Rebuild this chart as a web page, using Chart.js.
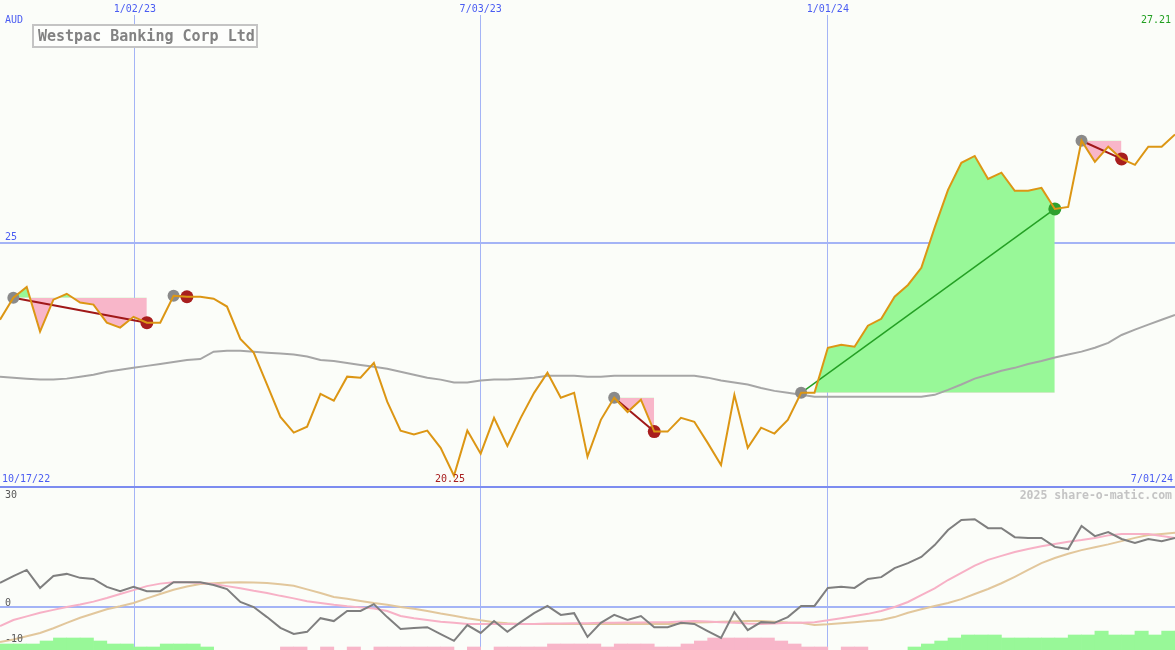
<!DOCTYPE html>
<html>
<head>
<meta charset="utf-8">
<script src="https://cdn.jsdelivr.net/npm/chart.js@4.4.1/dist/chart.umd.min.js"></script>
<style>
  body { margin: 0; background: #fbfdf9; }
  #wrap { position: relative; width: 1175px; height: 650px; overflow: hidden; }
  canvas { position: absolute; left: 0; }
</style>
</head>
<body>
<div id="wrap">
  <canvas id="priceChart" width="1175" height="488" style="top:0"></canvas>
  <canvas id="oscChart" width="1175" height="162" style="top:488px"></canvas>
</div>
<script>
// weekly closes (AUD), one value per week
const prices = [23.43, 23.88, 24.10, 23.19, 23.84, 23.96, 23.78, 23.74, 23.37, 23.27,
  23.49, 23.37, 23.37, 23.92, 23.90, 23.90, 23.86, 23.70, 23.04, 22.76,
  22.11, 21.45, 21.13, 21.25, 21.92, 21.78, 22.27, 22.25, 22.55, 21.76,
  21.17, 21.09, 21.17, 20.82, 20.25, 21.17, 20.70, 21.43, 20.86, 21.43,
  21.94, 22.35, 21.84, 21.94, 20.64, 21.39, 21.84, 21.55, 21.80, 21.15,
  21.15, 21.43, 21.35, 20.92, 20.47, 21.90, 20.82, 21.23, 21.11, 21.39,
  21.94, 21.94, 22.86, 22.92, 22.88, 23.31, 23.45, 23.90, 24.14, 24.49,
  25.31, 26.08, 26.63, 26.77, 26.30, 26.43, 26.06, 26.06, 26.12, 25.69,
  25.73, 27.08, 26.65, 26.96, 26.71, 26.59, 26.96, 26.96, 27.21];

// slow moving average (grey)
const avgLine = [22.27, 22.25, 22.23, 22.21, 22.21, 22.23, 22.27, 22.31, 22.37, 22.41,
  22.45, 22.49, 22.53, 22.57, 22.61, 22.63, 22.78, 22.80, 22.80, 22.78,
  22.76, 22.74, 22.72, 22.68, 22.61, 22.59, 22.55, 22.51, 22.47, 22.43,
  22.37, 22.31, 22.25, 22.21, 22.15, 22.15, 22.19, 22.21, 22.21, 22.23,
  22.25, 22.29, 22.29, 22.29, 22.27, 22.27, 22.29, 22.29, 22.29, 22.29,
  22.29, 22.29, 22.29, 22.25, 22.19, 22.15, 22.11, 22.04, 21.98, 21.94,
  21.90, 21.86, 21.86, 21.86, 21.86, 21.86, 21.86, 21.86, 21.86, 21.86,
  21.90, 22.00, 22.11, 22.23, 22.31, 22.39, 22.45, 22.53, 22.59, 22.66,
  22.72, 22.78, 22.86, 22.96, 23.12, 23.23, 23.33, 23.43, 23.53];

// trades: entry and exit week
const tradeIn = [1, 13, 46, 60, 81];
const tradeOut = [11, 14, 49, 79, 84];

// lower panel
const oscLine = [6.7, 8.6, 10.3, 5.3, 8.6, 9.2, 8.1, 7.8, 5.6, 4.4,
  5.6, 4.4, 4.4, 6.9, 6.9, 6.9, 6.1, 5.0, 1.4, 0.0,
  -2.8, -5.8, -7.5, -6.9, -3.1, -3.9, -1.1, -1.1, 0.8, -2.8,
  -6.1, -5.8, -5.6, -7.5, -9.4, -5.0, -7.2, -3.9, -6.9, -4.2,
  -1.7, 0.3, -2.2, -1.7, -8.3, -4.4, -2.2, -3.6, -2.5, -5.6,
  -5.6, -4.4, -4.7, -6.7, -8.6, -1.4, -6.4, -4.2, -4.4, -2.8,
  0.3, 0.3, 5.3, 5.6, 5.3, 7.8, 8.3, 10.8, 12.2, 13.9,
  17.2, 21.4, 24.2, 24.4, 21.9, 21.9, 19.4, 19.2, 19.2, 16.7,
  16.1, 22.5, 19.7, 20.8, 18.9, 17.8, 18.9, 18.3, 19.2];

const oscFast = [-5.3, -3.6, -2.6, -1.6, -0.8, 0.0, 0.7, 1.5, 2.5, 3.6,
  4.7, 5.8, 6.5, 6.9, 6.9, 6.7, 6.4, 5.8, 5.2, 4.5,
  3.9, 3.1, 2.4, 1.6, 1.1, 0.6, 0.2, -0.1, -0.4, -1.1,
  -2.5, -3.1, -3.6, -4.1, -4.4, -4.7, -4.7, -4.7, -4.7, -4.7,
  -4.7, -4.6, -4.6, -4.5, -4.5, -4.4, -4.4, -4.3, -4.3, -4.2,
  -4.2, -4.0, -3.9, -4.0, -4.2, -4.4, -4.6, -4.7, -4.6, -4.4,
  -4.4, -4.2, -3.7, -3.1, -2.5, -1.9, -1.1, 0.0, 1.4, 3.3,
  5.2, 7.5, 9.5, 11.5, 13.1, 14.2, 15.3, 16.1, 16.9, 17.5,
  18.1, 18.6, 19.2, 19.9, 20.3, 20.3, 20.3, 19.7, 19.2];

const oscSlow = [-9.7, -9.0, -8.1, -7.2, -5.9, -4.4, -3.0, -1.8, -0.6, 0.2,
  1.1, 2.4, 3.6, 4.8, 5.7, 6.4, 6.6, 6.8, 6.9, 6.8,
  6.7, 6.3, 5.9, 4.9, 3.9, 2.8, 2.3, 1.7, 1.1, 0.6,
  0.0, -0.5, -1.1, -1.8, -2.4, -3.1, -3.7, -4.2, -4.5, -4.7,
  -4.7, -4.7, -4.7, -4.7, -4.7, -4.7, -4.7, -4.7, -4.7, -4.7,
  -4.7, -4.6, -4.3, -4.2, -4.1, -4.0, -3.9, -3.9, -4.1, -4.3,
  -4.4, -5.0, -4.8, -4.5, -4.2, -3.9, -3.6, -2.8, -1.6, -0.6,
  0.3, 1.1, 2.2, 3.6, 5.0, 6.6, 8.4, 10.3, 12.2, 13.6,
  14.8, 15.8, 16.6, 17.4, 18.3, 19.2, 20.0, 20.3, 20.6];

// histogram: positive = green, negative = pink
const histo = [2, 2, 2, 3, 4, 4, 4, 3, 2, 2,
  1, 1, 2, 2, 2, 1, 0, 0, 0, 0,
  0, -1, -1, 0, -1, 0, -1, 0, -1, -1,
  -1, -1, -1, -1, 0, -1, 0, -1, -1, -1,
  -1, -2, -2, -2, -2, -1, -2, -2, -2, -1,
  -1, -2, -3, -4, -4, -4, -4, -4, -3, -2,
  -1, -1, 0, -1, -1, 0, 0, 0, 1, 2,
  3, 4, 5, 5, 5, 4, 4, 4, 4, 4,
  5, 5, 6.3, 5, 5, 6.3, 5, 6.3, 6.3];

// axis marks (week index)
const dateTicks = [10.1, 36, 62];
const dateLabels = ["1/02/23", "7/03/23", "1/01/24"];
const firstDate = "10/17/22";
const lastDate = "7/01/24";
const priceTicks = [25];
const oscTicks = [0];
const oscLabels = [30, 0, -10];

const BLUE_TEXT = "#4a5cf2";
const GRID = "#a4b4f6";
const BG = "#fbfdf9";
const MONO = '"DejaVu Sans Mono", "Liberation Mono", monospace';

const xy = (arr, start = 0) => arr.map((v, i) => ({ x: i + start, y: v }));

// shared x scale
function xScale() {
  return {
    type: "linear", min: 0, max: prices.length - 1, offset: false,
    afterBuildTicks: (s) => { s.ticks = dateTicks.map((v) => ({ value: v })); },
    afterFit: (s) => { s.height = 0; },
    ticks: { display: false },
    grid: { color: GRID, lineWidth: 1, drawTicks: false, offset: false },
    border: { display: false }
  };
}

// trades
const trades = tradeIn.map((a, k) => {
  const b = tradeOut[k];
  return { a, b, won: prices[b] > prices[a] };
});

const priceSets = [
  { data: xy(prices), borderColor: "#dc9614", borderWidth: 2, order: 1 },
  { data: xy(avgLine), borderColor: "#a6a6a6", borderWidth: 2, order: 8 }
];
trades.forEach((t) => {
  priceSets.push({
    data: xy(prices.slice(t.a, t.b + 1), t.a),
    borderWidth: 0, borderColor: "rgba(0,0,0,0)",
    fill: { target: { value: prices[t.a] }, above: "#98f898", below: "#f8b6c9" },
    order: 10
  });
  priceSets.push({
    data: [{ x: t.a, y: prices[t.a] }, { x: t.b, y: prices[t.b] }],
    borderColor: t.won ? "#24a024" : "#a01818",
    borderWidth: t.won ? 1.5 : 2, order: 5
  });
});
priceSets.push({
  data: trades.map((t) => ({ x: t.a, y: prices[t.a] })),
  showLine: false, pointRadius: 6, pointBackgroundColor: "#8a8a8a", pointBorderWidth: 0, order: 4
});
priceSets.push({
  data: trades.map((t) => ({ x: t.b, y: prices[t.b] })),
  showLine: false, pointRadius: 6.5,
  pointBackgroundColor: trades.map((t) => (t.won ? "#2ea02e" : "#a81e1e")),
  pointBorderWidth: 0, order: 3
});

// text on the price panel
const priceText = {
  id: "priceText",
  afterDraw(chart) {
    const { ctx, scales: { x, y } } = chart;
    ctx.save();
    ctx.font = "10px " + MONO;
    ctx.textBaseline = "middle";

    // date labels on top, gridline starts below them
    ctx.textAlign = "center";
    dateTicks.forEach((v, i) => {
      const px = x.getPixelForValue(v);
      ctx.fillStyle = BG;
      ctx.fillRect(px - 24, 0, 48, 15);
      ctx.fillStyle = BLUE_TEXT;
      ctx.fillText(dateLabels[i], px, 9);
    });

    ctx.textAlign = "left";
    ctx.fillStyle = BLUE_TEXT;
    ctx.fillText("AUD", 5, 20);
    priceTicks.forEach((v) => ctx.fillText(String(v), 5, y.getPixelForValue(v) - 5));
    ctx.fillText(firstDate, 2, 479);
    ctx.textAlign = "right";
    ctx.fillText(lastDate, 1173, 479);

    // last price
    const last = prices[prices.length - 1];
    ctx.fillStyle = "#22a022";
    ctx.fillText(last.toFixed(2), 1171, 20);

    // lowest close
    const low = Math.min(...prices);
    const lowIdx = prices.indexOf(low);
    ctx.textAlign = "center";
    ctx.fillStyle = "#a82020";
    ctx.fillText(low.toFixed(2), x.getPixelForValue(lowIdx) - 4, 479);

    // divider
    ctx.fillStyle = "#7c8cf0";
    ctx.fillRect(0, 486, chart.width, 2);

    // title box
    ctx.fillStyle = "#fdfefc";
    ctx.fillRect(33, 25, 224, 22);
    ctx.strokeStyle = "#c4c4c4";
    ctx.lineWidth = 2;
    ctx.strokeRect(33, 25, 224, 22);
    ctx.font = "bold 15px " + MONO;
    ctx.fillStyle = "#828282";
    ctx.textAlign = "left";
    ctx.fillText("Westpac Banking Corp Ltd", 38, 37);
    ctx.restore();
  }
};

new Chart(document.getElementById("priceChart"), {
  type: "line",
  data: { datasets: priceSets },
  options: {
    responsive: false, animation: false, devicePixelRatio: 1, events: [],
    layout: { padding: 0, autoPadding: false },
    elements: { point: { radius: 0 }, line: { tension: 0 } },
    plugins: { legend: { display: false }, tooltip: { enabled: false } },
    scales: {
      x: xScale(),
      y: {
        min: 20, max: 29.95,
        afterBuildTicks: (s) => { s.ticks = priceTicks.map((v) => ({ value: v })); },
        afterFit: (s) => { s.width = 0; },
        ticks: { display: false },
        grid: { color: GRID, lineWidth: 2, drawTicks: false },
        border: { display: false }
      }
    }
  },
  plugins: [priceText]
});

// lower panel
const oscText = {
  id: "oscText",
  afterDraw(chart) {
    const { ctx, scales: { y } } = chart;
    ctx.save();
    ctx.font = "10px " + MONO;
    ctx.textBaseline = "middle";
    ctx.textAlign = "left";
    ctx.fillStyle = "#585858";
    // keep labels inside the panel
    oscLabels.forEach((v) => {
      const py = Math.min(y.getPixelForValue(v) - 4, chart.height - 8);
      ctx.fillText(String(v), 5, py);
    });
    ctx.font = "bold 11.5px " + MONO;
    ctx.fillStyle = "#c4c4c4";
    ctx.textAlign = "right";
    ctx.fillText("2025 share-o-matic.com", 1172, 8);
    ctx.restore();
  }
};

const barStyle = { type: "bar", yAxisID: "h", grouped: false, barPercentage: 1, categoryPercentage: 1, borderWidth: 0, order: 6 };

new Chart(document.getElementById("oscChart"), {
  type: "line",
  data: {
    datasets: [
      { data: xy(oscLine), borderColor: "#7f7f7f", borderWidth: 2, order: 1 },
      { data: xy(oscFast), borderColor: "#f7b1c6", borderWidth: 2, order: 2 },
      { data: xy(oscSlow), borderColor: "#e2c79c", borderWidth: 2, order: 3 },
      Object.assign({ data: histo.map((v, i) => ({ x: i + 0.5, y: v > 0 ? v : null })), backgroundColor: "#98f898" }, barStyle),
      Object.assign({ data: histo.map((v, i) => ({ x: i + 0.5, y: v < 0 ? -v : null })), backgroundColor: "#f8b6c9" }, barStyle)
    ]
  },
  options: {
    responsive: false, animation: false, devicePixelRatio: 1, events: [],
    layout: { padding: 0, autoPadding: false },
    elements: { point: { radius: 0 }, line: { tension: 0 } },
    plugins: { legend: { display: false }, tooltip: { enabled: false } },
    scales: {
      x: xScale(),
      y: {
        min: -11.94, max: 33.06,
        afterBuildTicks: (s) => { s.ticks = oscTicks.map((v) => ({ value: v })); },
        afterFit: (s) => { s.width = 0; },
        ticks: { display: false },
        grid: { color: GRID, lineWidth: 2, drawTicks: false },
        border: { display: false }
      },
      h: { display: false, min: 0, max: 54 }
    }
  },
  plugins: [oscText]
});
</script>
</body>
</html>
